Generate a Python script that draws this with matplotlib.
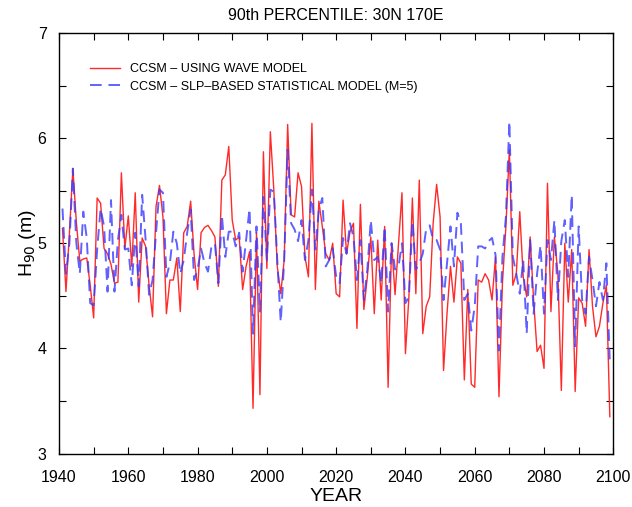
import numpy as np
import matplotlib
matplotlib.use("Agg")
import matplotlib.pyplot as plt
from matplotlib.ticker import MultipleLocator

plt.rcParams['font.family'] = ['Liberation Sans', 'DejaVu Sans']

years = np.arange(1941, 2100)

# CCSM - using wave model (red)
wave = [5.14, 4.54, 5.10, 5.71, 5.20, 4.83, 4.85, 4.86, 4.60, 4.29,   # 1941-1950
        5.43, 5.38, 4.95, 4.90, 4.80, 4.62, 4.63, 5.67, 4.95, 5.26,   # 1951-1960
        4.78, 5.48, 4.44, 5.05, 4.97, 4.60, 4.30, 5.35, 5.55, 5.25,   # 1961-1970
        4.33, 4.65, 4.65, 4.86, 4.35, 5.10, 5.16, 5.40, 4.89, 4.56,   # 1971-1980
        5.10, 5.15, 5.17, 5.12, 5.06, 4.59, 5.60, 5.65, 5.92, 5.22,   # 1981-1990
        5.03, 5.06, 4.56, 4.78, 4.92, 3.43, 5.10, 3.56, 5.87, 4.76,   # 1991-2000
        6.06, 5.51, 4.78, 4.52, 4.84, 6.13, 5.27, 5.25, 5.67, 5.54,   # 2001-2010
        4.87, 4.68, 6.14, 4.56, 5.40, 5.16, 4.90, 4.84, 5.00, 4.52,   # 2011-2020
        4.49, 5.41, 4.90, 5.11, 5.19, 4.19, 5.37, 4.37, 4.68, 5.06,   # 2021-2030
        4.33, 5.03, 4.46, 5.16, 3.63, 5.00, 4.51, 5.00, 5.48, 3.95,   # 2031-2040
        4.49, 5.43, 4.52, 5.60, 4.14, 4.40, 4.49, 5.19, 5.56, 5.25,   # 2041-2050
        3.79, 4.33, 4.78, 4.44, 4.87, 4.81, 3.70, 4.56, 3.66, 3.63,   # 2051-2060
        4.65, 4.63, 4.71, 4.65, 4.46, 4.87, 3.54, 4.62, 5.16, 5.89,   # 2061-2070
        4.60, 4.71, 5.30, 4.68, 4.49, 5.06, 4.46, 3.97, 4.03, 3.81,   # 2071-2080
        5.57, 4.35, 5.06, 4.71, 3.60, 5.00, 4.44, 4.94, 3.59, 4.48,   # 2081-2090
        4.43, 4.21, 4.94, 4.40, 4.11, 4.21, 4.43, 4.60, 3.35]         # 2091-2099

# CCSM - SLP-based statistical model, M=5 (blue dashed)
slp = [5.33, 4.71, 5.00, 5.71, 5.00, 4.71, 5.30, 5.05, 4.43, 4.41,   # 1941-1950
       4.94, 5.33, 5.16, 4.54, 5.41, 4.54, 5.03, 5.27, 4.94, 4.95,   # 1951-1960
       4.60, 5.10, 4.59, 5.46, 5.03, 4.51, 4.65, 5.10, 5.51, 5.48,   # 1961-1970
       4.68, 4.81, 5.11, 5.00, 4.71, 4.84, 5.10, 5.32, 4.65, 4.75,   # 1971-1980
       4.95, 4.81, 4.73, 4.97, 5.00, 4.62, 5.27, 4.87, 5.11, 5.11,   # 1981-1990
       4.97, 5.10, 4.73, 5.03, 5.33, 4.14, 5.16, 4.35, 5.44, 4.84,   # 1991-2000
       5.51, 5.49, 4.84, 4.25, 4.84, 5.89, 5.19, 5.13, 5.02, 5.22,   # 2001-2010
       4.84, 5.03, 5.51, 4.94, 5.32, 5.43, 4.78, 4.84, 4.95, 4.68,   # 2011-2020
       4.62, 5.05, 4.90, 5.19, 5.06, 4.65, 5.03, 4.46, 4.75, 5.22,   # 2021-2030
       4.84, 4.87, 4.62, 5.16, 4.35, 5.00, 4.75, 4.78, 5.00, 4.43,   # 2031-2040
       4.49, 5.21, 4.75, 4.81, 4.90, 5.14, 5.17, 5.03, 5.03, 4.94,   # 2041-2050
       4.46, 4.81, 5.16, 4.78, 5.29, 5.19, 4.46, 4.52, 4.17, 4.40,   # 2051-2060
       4.97, 4.97, 4.95, 5.02, 5.05, 4.89, 3.98, 4.87, 5.25, 6.16,   # 2061-2070
       4.87, 4.71, 4.52, 4.84, 4.14, 5.03, 4.33, 4.71, 4.98, 4.33,   # 2071-2080
       5.03, 4.84, 5.22, 4.46, 5.02, 5.22, 4.68, 5.46, 4.02, 5.16,   # 2081-2090
       4.46, 4.33, 4.87, 4.65, 4.40, 4.63, 4.46, 4.81, 3.86]         # 2091-2099

fig = plt.figure(figsize=(6.32, 5.07), dpi=100)
ax = fig.add_axes([0.0934, 0.1055, 0.877, 0.8295])

ax.plot(years, wave, color='#ff2a2a', lw=1.0, label='CCSM – USING WAVE MODEL')
ax.plot(years, slp, color='#3a3aff', lw=1.4, alpha=0.8, dashes=(6, 3.5),
        label='CCSM – SLP–BASED STATISTICAL MODEL (M=5)')

ax.set_xlim(1940, 2100)
ax.set_ylim(3, 7)
ax.xaxis.set_major_locator(MultipleLocator(20))
ax.xaxis.set_minor_locator(MultipleLocator(10))
ax.yaxis.set_major_locator(MultipleLocator(1))
ax.yaxis.set_minor_locator(MultipleLocator(0.5))
ax.tick_params(which='both', direction='in', top=True, right=True, labelsize=11.5, width=0.8)
ax.tick_params(which='major', length=5)
ax.tick_params(which='minor', length=5)
ax.tick_params(axis='x', which='major', pad=12)
ax.tick_params(axis='y', which='major', pad=9)
for s in ax.spines.values():
    s.set_linewidth(1.0)

ax.set_title('90th PERCENTILE: 30N 170E', fontsize=11.5, pad=9)
ax.set_xlabel('YEAR', fontsize=14, labelpad=2)
ax.set_ylabel('H$_{90}$ (m)', fontsize=14)
ax.yaxis.set_label_coords(-0.038, 0.5)

ax.legend(loc='upper left', bbox_to_anchor=(0.035, 0.955), frameon=False, fontsize=9,
          handlelength=2.4, handletextpad=0.8, labelspacing=0.45)

fig.savefig('out.png', dpi=100)
